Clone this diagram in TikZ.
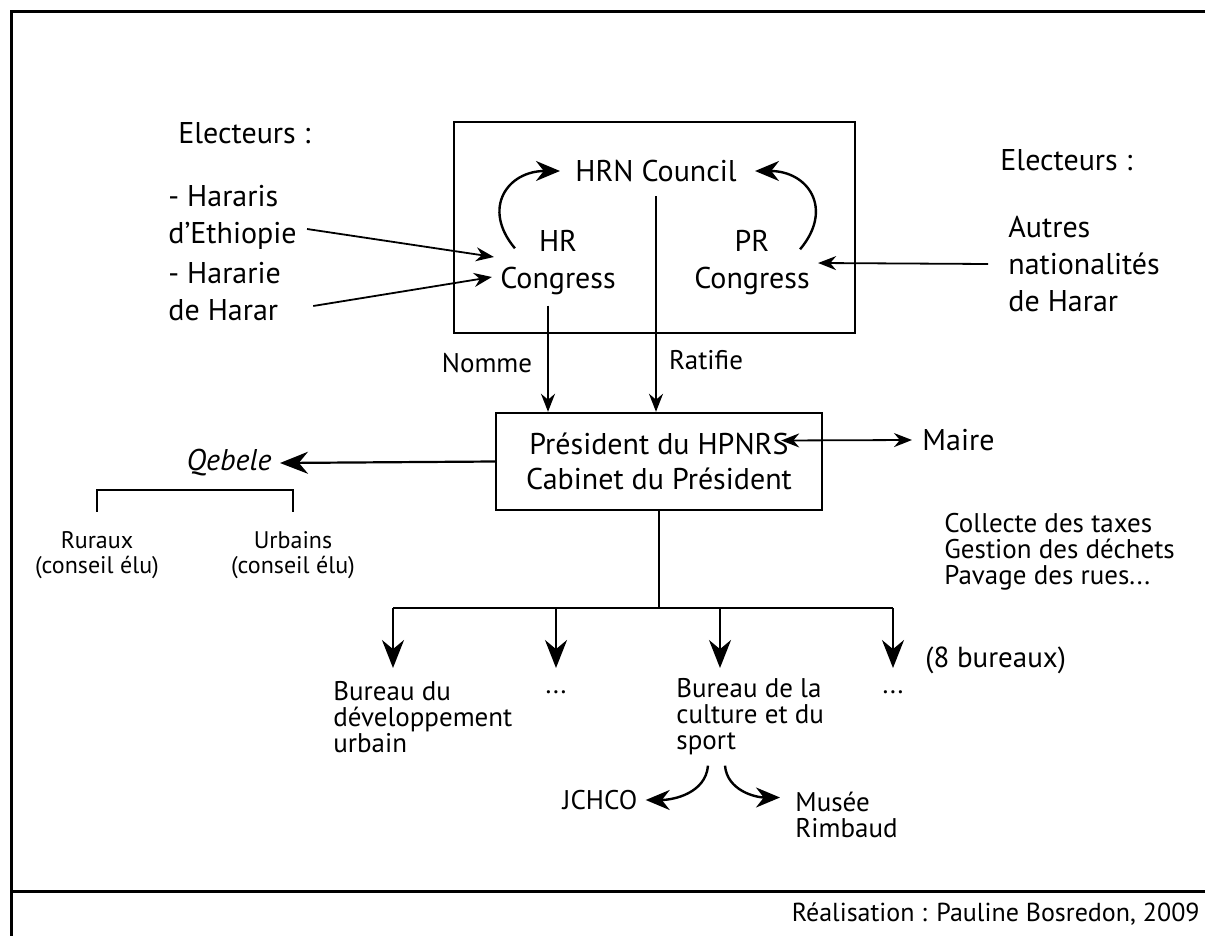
\documentclass[tikz,border=0pt]{standalone}
\usepackage{fontspec}
\setmainfont{PT Sans}
\usetikzlibrary{arrows.meta, positioning, calc}
\tikzset{
  txt/.style    = {font=\fontsize{15}{18.5}\selectfont, inner sep=0pt, align=left},
  petit/.style  = {font=\fontsize{12}{12.5}\selectfont, inner sep=0pt, align=left},
  moyen/.style  = {font=\fontsize{13.5}{13}\selectfont, inner sep=0pt, align=left},
  cadre/.style  = {draw, line width=1.2pt, inner sep=0pt},
  lien/.style   = {line width=1.1pt},
  fl/.style     = {-{Stealth[length=9pt, width=7pt]}, line width=0.9pt},
  dfl/.style    = {{Stealth[length=9pt, width=7pt]}-{Stealth[length=9pt, width=7pt]}, line width=0.9pt},
  cfl/.style    = {-{Stealth[length=12pt, width=10pt]}, line width=1.2pt},
  gfl/.style    = {-{Stealth[length=14pt, width=11pt]}, line width=1.1pt}
}
\begin{document}
\begin{tikzpicture}[x=0.5pt, y=-0.5pt]
  \useasboundingbox (0,0) rectangle (1205,936);
  \clip (0,0) rectangle (1205,936);
  % cadre general
  \draw[line width=1.5pt] (11,950) -- (11,12) -- (1220,12);
  \draw[line width=1.5pt] (11,891) -- (1220,891);

  % electeurs
  \node[txt, anchor=west] (elec1)   at (178,133) {Electeurs :};
  \node[txt, anchor=west] (hararis) at (168,217) {- Hararis\\d\symbol{"27}Ethiopie};
  \node[txt, anchor=west] (hararie) at (168,292) {- Hararie\\de Harar};
  \node[txt, anchor=west] (elec2)   at (1000,160) {Electeurs :};
  \node[txt, anchor=west] (autres)  at (1008,264) {Autres\\nationalités\\de Harar};

  % conseil
  \node[cadre, minimum width=200.5pt, minimum height=105.5pt] (conseil) at (654.5,227.5) {};
  \node[txt] (hrn) at (656,171) {HRN Council};
  \node[txt, align=center] (hrc) at (558,263) {HR\\Congress};
  \node[txt, align=center] (prc) at (752,263) {PR\\Congress};

  % president
  \node[cadre, txt, align=center, font=\fontsize{15}{17.5}\selectfont,
        minimum width=163pt, minimum height=48.5pt] (pres) at (659,461.5)
        {Président du HPNRS\\Cabinet du Président};
  \node[moyen] (nomme)   at (487,363) {Nomme};
  \node[moyen] (ratifie) at (706,360) {Ratifie};
  \node[txt, anchor=west] (maire) at (922,440) {Maire};
  \node[moyen, anchor=west] (taches) at (944,552)
        {Collecte des taxes\\Gestion des déchets\\Pavage des rues...};

  % qebele
  \node[txt, anchor=east, font=\fontsize{15}{18.5}\selectfont\itshape] (qebele) at (272,463) {Qebele};
  \node[petit, align=center] (ruraux)  at (97,555)  {Ruraux\\(conseil élu)};
  \node[petit, align=center] (urbains) at (293,555) {Urbains\\(conseil élu)};

  % bureaux
  \node[moyen, anchor=west] (bur1) at (333,717) {Bureau du\\développement\\urbain};
  \node[moyen]              (pt1)  at (556,692) {...};
  \node[moyen, anchor=west] (bur2) at (676,717) {Bureau de la\\culture et du\\sport};
  \node[moyen]              (pt2)  at (893,692) {...};
  \node[moyen, anchor=west, font=\fontsize{14.5}{13}\selectfont] (nb) at (925,660) {(8 bureaux)};
  \node[moyen]              (jchco) at (600,800) {JCHCO};
  \node[moyen, anchor=west] (musee) at (795,815) {Musée\\Rimbaud};

  \node[moyen, anchor=east, font=\fontsize{13}{13}\selectfont] (real) at (1200,914) {Réalisation : Pauline Bosredon, 2009};

  % fleches electeurs
  \draw[fl] ([shift={(5pt,-6pt)}]hararis.east) -- ([shift={(-3pt,3pt)}]hrc.west);
  \draw[fl] ([shift={(16pt,-7pt)}]hararie.east) -- ([shift={(-4pt,-7pt)}]hrc.west);
  \draw[fl] ([xshift=-10pt]autres.west) -- ([xshift=4pt]prc.east);

  % boucles vers le conseil
  \draw[cfl] ([shift={(7.5pt,-9pt)}]hrc.north west) to[out=130, in=180, looseness=1.5] ([xshift=-7.5pt]hrn.west);
  \draw[cfl] ([shift={(-5pt,-9.5pt)}]prc.north east) to[out=50, in=0, looseness=1.5] ([xshift=9pt]hrn.east);

  % nomme / ratifie
  \draw[fl] ([shift={(-5pt,-5pt)}]hrc.south) coordinate (n1) -- (n1 |- pres.north);
  \draw[fl] ([yshift=-7pt]hrn.south) -- (hrn.south |- pres.north);

  % maire et qebele
  \draw[dfl] ([shift={(-21pt,10.5pt)}]pres.east) -- ([xshift=-5pt]maire.west);
  \draw[gfl] (pres.west) -- ([xshift=4pt]qebele.east);
  \draw[lien] ([yshift=9.5pt]ruraux.north) -- ++(0,-22) -| ([yshift=9.5pt]urbains.north);

  % vers les bureaux
  \draw[lien] (pres.south) -- ++(0,97) coordinate (bus);
  \foreach \x/\n in {393/f1, 556/f2, 720/f3, 893/f4}
    \coordinate (\n) at (\x,668);
  \draw[lien] (f1 |- bus) -- (f4 |- bus);
  \foreach \n in {f1,f2,f3,f4}
    \draw[gfl] (\n |- bus) -- (\n);

  % sous-bureaux
  \draw[cfl] ([shift={(16pt,-5pt)}]bur2.south west) to[out=-95, in=0] ([xshift=4pt]jchco.east);
  \draw[cfl] ([shift={(24.5pt,-5pt)}]bur2.south west) to[out=-85, in=180] ([shift={(-7.5pt,8.75pt)}]musee.west);
\end{tikzpicture}
\end{document}
